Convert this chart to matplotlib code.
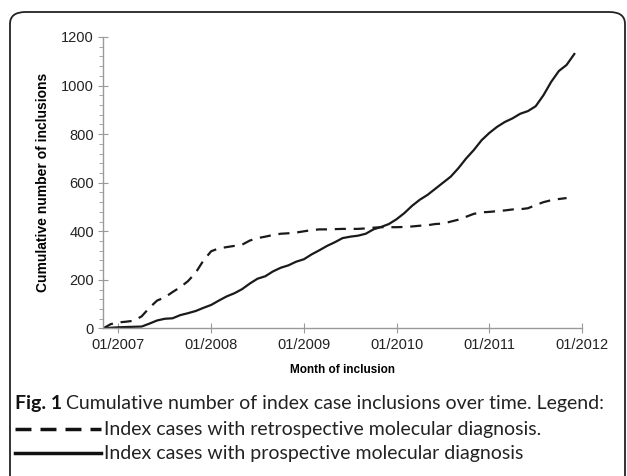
import matplotlib.pyplot as plt
from matplotlib.patches import FancyBboxPatch
from matplotlib.lines import Line2D

# months counted from 01/2007 (0 = 01/2007)
months_pro = list(range(-2, 60))
prospective = [0, 3, 5, 6, 7, 8, 20, 33, 40, 42, 55, 63, 72, 85, 97, 115, 132, 145,
               162, 185, 205, 215, 235, 250, 260, 275, 285, 305, 322, 340, 355, 372,
               378, 382, 390, 408, 418, 430, 450, 475, 505, 530, 550, 575, 600, 625,
               660, 700, 735, 775, 805, 830, 850, 865, 884, 895, 915, 960, 1015, 1060,
               1085, 1130]

months_retro = list(range(-2, 59))
retrospective = [0, 18, 25, 28, 32, 50, 85, 115, 128, 150, 170, 195, 230, 280, 318,
                 330, 335, 340, 345, 362, 372, 378, 385, 390, 392, 395, 400, 405, 408,
                 408, 409, 410, 410, 410, 412, 415, 417, 417, 417, 418, 420, 423, 425,
                 430, 432, 440, 448, 460, 472, 478, 480, 483, 486, 490, 491, 495, 508,
                 520, 528, 533, 537]

tick_months = [0, 12, 24, 36, 48, 60]
tick_labels = ['01/2007', '01/2008', '01/2009', '01/2010', '01/2011', '01/2012']

fig = plt.figure(figsize=(6.27, 4.76), dpi=100)
ax = fig.add_axes([0.1643, 0.3099, 0.764, 0.6124])

ax.plot(months_retro, retrospective, color='#1a1a1a', lw=1.6, dashes=(5, 3.5))
ax.plot(months_pro, prospective, color='#1a1a1a', lw=1.6)

ax.set_xlim(-2, 60)
ax.set_ylim(0, 1200)
ax.set_xticks(tick_months)
ax.set_xticklabels(tick_labels)
ax.set_yticks(range(0, 1201, 200))
ax.set_yticks(range(0, 1201, 40), minor=True)

for s in ['top', 'right']:
    ax.spines[s].set_visible(False)
for s in ['left', 'bottom']:
    ax.spines[s].set_color('#9a9a9a')
    ax.spines[s].set_linewidth(1.0)

ax.tick_params(which='major', direction='inout', length=7, color='#9a9a9a',
               labelsize=10.5, labelcolor='#222222', pad=3)
ax.tick_params(axis='x', which='minor', bottom=False)
ax.tick_params(axis='y', which='minor', direction='out', length=3, color='#9a9a9a')
for lab in ax.get_xticklabels() + ax.get_yticklabels():
    lab.set_family('Liberation Sans')

ax.set_xlabel('Month of inclusion', family='Liberation Sans', fontweight='bold',
              fontsize=8.5, labelpad=9)
ax.set_ylabel('Cumulative number of inclusions', family='Liberation Sans',
              fontweight='bold', fontsize=10, labelpad=8)

# frame around the figure and caption
box = FancyBboxPatch((10 / 627, -0.2), 615 / 627, 1.2 - 12 / 476,
                     boxstyle='round,pad=0,rounding_size=0.025',
                     transform=fig.transFigure, fill=False, ec='#222222', lw=1.3,
                     clip_on=False)
fig.patches.append(box)

cap_font = 'Lato'
cap_size = 14
fig.text(15 / 627, 1 - 404 / 476, 'Fig. 1', family=cap_font, fontweight='bold',
         fontsize=cap_size, va='center', color='#111111')
fig.text(66 / 627, 1 - 404 / 476,
         'Cumulative number of index case inclusions over time. Legend:',
         family=cap_font, fontsize=cap_size, va='center', color='#222222')
fig.lines.append(Line2D([15 / 627, 101 / 627], [1 - 429 / 476] * 2,
                        transform=fig.transFigure, color='#111111', lw=2.5,
                        dashes=(4.6, 2.6)))
fig.text(104 / 627, 1 - 429 / 476, 'Index cases with retrospective molecular diagnosis.',
         family=cap_font, fontsize=cap_size, va='center', color='#222222')
fig.lines.append(Line2D([15 / 627, 101 / 627], [1 - 453 / 476] * 2,
                        transform=fig.transFigure, color='#111111', lw=2.5))
fig.text(104 / 627, 1 - 453 / 476, 'Index cases with prospective molecular diagnosis',
         family=cap_font, fontsize=cap_size, va='center', color='#222222')

fig.savefig('out.png', dpi=100)
